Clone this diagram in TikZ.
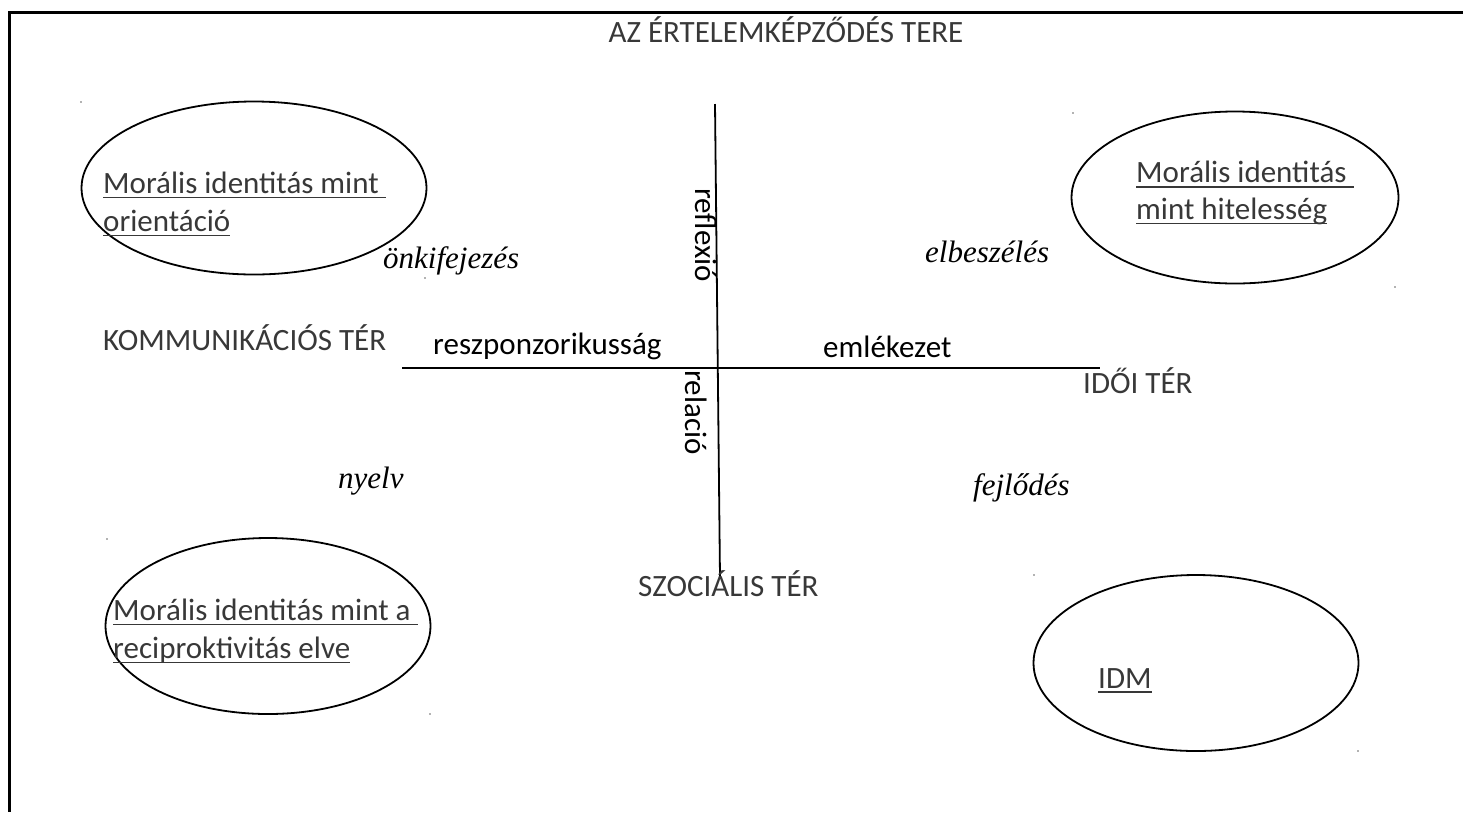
\documentclass[tikz,border=0pt]{standalone}
\usepackage{fontspec}
\setmainfont{Carlito}
\newfontfamily\serifit{Liberation Serif}
\usetikzlibrary{shapes.geometric}

% underline at a fixed depth below the baseline (runs through descenders)
\newsavebox\ulbox
\newcommand\wul[1]{\sbox\ulbox{#1}\rlap{\rule[-4.9pt]{\wd\ulbox}{1.6pt}}\usebox\ulbox}

\begin{document}
\begin{tikzpicture}[x=1pt,y=-1pt,
  lbl/.style={inner sep=0pt,anchor=base west,font=\fontsize{31}{37}\selectfont},
  thin/.style={lbl,text=black!78},
  itl/.style={inner sep=0pt,anchor=base west,font=\fontsize{31}{37}\selectfont\serifit\itshape},
  oval/.style={draw,ellipse,line width=1.8pt,inner sep=0pt},
  axis/.style={line width=1.8pt},
  speck/.style={fill=black!60,circle,inner sep=0pt,minimum size=1.6pt}]
\useasboundingbox (0,0) rectangle (1463,812);

% frame
\draw[line width=3pt] (1463,12.5) -- (9.5,12.5);
\draw[line width=2.5pt] (9.5,11) -- (9.5,812);

% title
\node[thin,anchor=base] (title) at (786,42) {AZ ÉRTELEMKÉPZŐDÉS TERE};

% axes
\coordinate (vtop) at (715,104);
\coordinate (vbot) at (720,578);
\coordinate (hleft) at (402,368);
\coordinate (hright) at (1100,368);
\draw[axis] (vtop) -- (vbot);
\draw[axis] (hleft) -- (hright);

% axis labels
\node[thin] (komm) at (103,350) {KOMMUNIKÁCIÓS TÉR};
\node[thin] (idoi) at (1083,393) {IDŐI TÉR};
\node[thin] (szoc) at (638,596) {SZOCIÁLIS TÉR};
\node[lbl] (resz) at (433,354) {reszponzorikusság};
\node[lbl] (emlek) at (823,357) {emlékezet};
\node[lbl,rotate=-90] (refl) at (695,188) {reflexió};
\node[lbl,rotate=-90] (rel) at (685,370) {relació};

% italic quadrant words
\node[itl] (onki) at (383,268) {önkifejezés};
\node[itl] (elb) at (925,262) {elbeszélés};
\node[itl] (nyelv) at (338,488) {nyelv};
\node[itl] (fejl) at (973,495) {fejlődés};

% ovals
\node[oval,minimum width=345pt,minimum height=173pt] (e1) at (254,188) {};
\node[oval,minimum width=327pt,minimum height=172pt] (e2) at (1235,197.5) {};
\node[oval,minimum width=325pt,minimum height=176pt] (e3) at (268,626) {};
\node[oval,minimum width=325pt,minimum height=176pt] (e4) at (1196,663) {};

% oval captions
\node[thin] (t1a) at (103,193.3) {\wul{Morális identitás mint\ }};
\node[thin] (t1b) at (103,231.5) {\wul{orientáció}};
\node[thin] (t2a) at (1136,182.7) {\wul{Morális identitás\ }};
\node[thin] (t2b) at (1136,219.5) {\wul{mint hitelesség}};
\node[thin] (t3a) at (113,620.5) {\wul{Morális identitás mint a\ }};
\node[thin] (t3b) at (113,658.5) {\wul{reciproktivitás elve}};
\node[thin] (t4) at (1098,688) {\wul{IDM}};

% small anchor specks
\foreach \p [count=\i] in {(81,102),(425,278),(1073,113),(1395,287),(107,539),(430,714),(1034,575),(1358,751)}
  \node[speck] (s\i) at \p {};
\end{tikzpicture}
\end{document}
